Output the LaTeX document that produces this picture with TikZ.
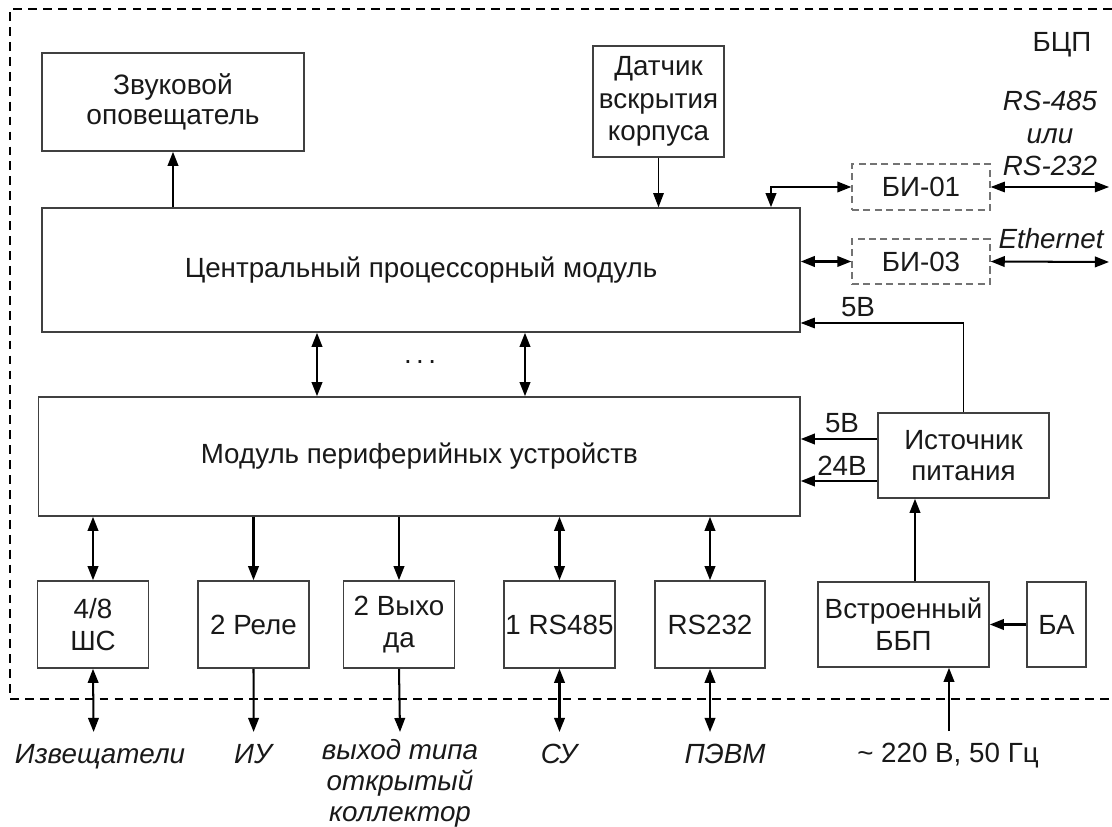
\documentclass[tikz,border=0pt]{standalone}
\usepackage{fontspec}
\setmainfont{Liberation Sans}
\usetikzlibrary{arrows.meta}
\begin{document}
\begin{tikzpicture}[x=0.02cm,y=-0.02cm,
  >={Triangle[length=8pt,width=6pt]},
  every node/.style={font=\fontsize{15.8}{18}\selectfont, text=black!90},
  box/.style={draw=black!75, line width=0.9pt, align=center, inner sep=0pt},
  dbox/.style={draw=black!55, line width=0.8pt, dash pattern=on 4pt off 2.5pt, align=center, inner sep=0pt},
  conn/.style={line width=1.15pt, black},
  thinconn/.style={line width=0.65pt, black},
  lab/.style={font=\fontsize{15.8}{18}\selectfont\itshape, inner sep=0pt},
  plain/.style={inner sep=0pt},
  bcpframe/.style={line width=1pt, dash pattern=on 5pt off 3.5pt, black}
]
\useasboundingbox (0,0) rectangle (1112,827);

% outer frame
\draw[bcpframe] (1112,9) -- (10,9) -- (10,699) -- (1112,699);

% boxes
\node[box, minimum width=5.24cm, minimum height=1.96cm, font=\fontsize{16}{17}\selectfont] (zv) at (173,102) {Звуковой\\оповещатель};
\node[box, minimum width=2.62cm, minimum height=2.22cm, font=\fontsize{15.8}{18.4}\selectfont] (dat) at (658.5,101.5) {Датчик\\вскрытия\\корпуса};
\node[box, minimum width=15.16cm, minimum height=2.48cm] (cpu) at (421,270) {Центральный процессорный модуль};
\node[dbox, minimum width=2.76cm, minimum height=0.92cm] (bi1) at (921,187) {БИ-01};
\node[dbox, minimum width=2.76cm, minimum height=0.90cm] (bi3) at (921,261.5) {БИ-03};
\node[box, minimum width=15.23cm, minimum height=2.38cm] (mod) at (419.3,456.5) {Модуль периферийных устройств};
\node[box, minimum width=3.42cm, minimum height=1.70cm] (src) at (963.5,455.5) {Источник\\питания};

\node[box, minimum width=2.22cm, minimum height=1.74cm] (shs) at (93,624.5) {4/8\\ШС};
\node[box, minimum width=2.22cm, minimum height=1.74cm] (rel) at (253.5,624.5) {2 Реле};
\node[box, minimum width=2.22cm, minimum height=1.74cm] (vyh) at (399,624.5) {2 Выхо\\да};
\node[box, minimum width=2.22cm, minimum height=1.74cm] (rs485) at (559.5,624.5) {1 RS485};
\node[box, minimum width=2.20cm, minimum height=1.74cm] (rs232) at (710,624.5) {RS232};
\node[box, minimum width=3.42cm, minimum height=1.70cm] (ups) at (903.5,624.5) {Встроенный\\ББП};
\node[box, minimum width=1.18cm, minimum height=1.70cm] (ba) at (1056.5,624.5) {БА};

% free ends
\coordinate (b1end) at (1109,187);
\coordinate (b3end) at (1109,262);
\coordinate (e1) at (93.6,732);
\coordinate (e2) at (253.6,732);
\coordinate (e3) at (400,732);
\coordinate (e4) at (559.5,732);
\coordinate (e5) at (710,732);
\coordinate (ac) at (949,731);

% connectors top part
\draw[conn,->] (cpu.north -| zv.south) -- (zv.south);
\draw[thinconn,->] (dat.south) -- (dat.south |- cpu.north);
\draw[conn,<->] (cpu.north -| 771,0) |- (bi1.west);
\draw[thinconn,<->] (bi1.east) -- (b1end);
\draw[conn,<->] (cpu.east |- bi3.west) -- (bi3.west);
\draw[conn,<->] (bi3.east) -- (b3end);
\draw[thinconn,->] (src.north) |- (cpu.east |- 0,323);

% cpu <-> module
\draw[conn,<->] (cpu.south -| 317,0) -- (mod.north -| 317,0);
\draw[conn,<->] (cpu.south -| 525,0) -- (mod.north -| 525,0);
\node[plain, anchor=base] (dots) at (420,364) {.\kern2.5pt.\kern2.5pt.};

% power
\draw[conn,->] (src.west |- 0,439) -- (mod.east |- 0,439);
\draw[conn,->] (src.west |- 0,481) -- (mod.east |- 0,481);
\draw[conn,->] (ups.north -| 915,0) -- (src.south -| 915,0);
\draw[conn,->] (ba.west) -- (ups.east);
\draw[conn,->] (ac) -- (ac |- ups.south);

% peripherals
\draw[conn,<->] (mod.south -| shs.north) -- (shs.north);
\draw[conn,->] (mod.south -| rel.north) -- (rel.north);
\draw[conn,->] (mod.south -| vyh.north) -- (vyh.north);
\draw[conn,<->] (mod.south -| rs485.north) -- (rs485.north);
\draw[conn,<->] (mod.south -| rs232.north) -- (rs232.north);
\draw[conn,<->] (shs.south) -- (e1);
\draw[conn,->] (rel.south) -- (e2);
\draw[conn,->] (vyh.south) -- (e3);
\draw[conn,<->] (rs485.south) -- (e4);
\draw[conn,<->] (rs232.south) -- (e5);

% labels
\node[plain, anchor=base] (lbcp) at (1062,52) {БЦП};
\node[lab, anchor=north, align=center, font=\fontsize{15.8}{18.7}\selectfont\itshape] (lrs) at (1050,90.5) {RS-485\\или\\RS-232};
\node[lab, anchor=base] (leth) at (1051,249) {Ethernet};
\node[plain, anchor=base] (l5a) at (858,317) {5В};
\node[plain, anchor=base] (l5b) at (842,432) {5В};
\node[plain, anchor=base] (l24) at (842,475) {24В};

\node[lab, anchor=base] (l1) at (100,763) {Извещатели};
\node[lab, anchor=base] (l2) at (253,763) {ИУ};
\node[lab, anchor=north, align=center, font=\fontsize{15.8}{17.6}\selectfont\itshape] (l3) at (400,739) {выход типа\\открытый\\коллектор};
\node[lab, anchor=base] (l4) at (559,763) {СУ};
\node[lab, anchor=base] (l5) at (725,763) {ПЭВМ};
\node[plain, anchor=base] (l6) at (948,762) {\textasciitilde{} 220 В, 50 Гц};
\end{tikzpicture}
\end{document}
